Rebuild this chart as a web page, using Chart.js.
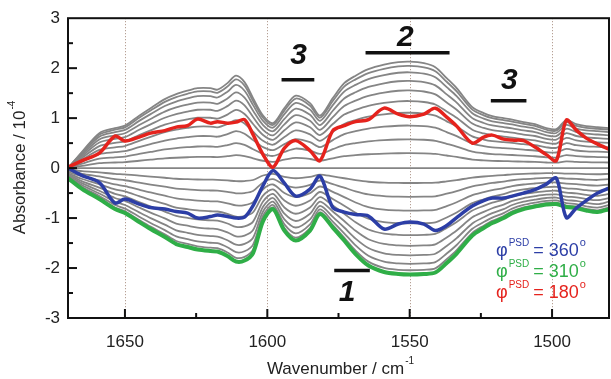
<!DOCTYPE html>
<html>
<head>
<meta charset="utf-8">
<script src="https://cdn.jsdelivr.net/npm/chart.js@4"></script>
<style>
  body { margin: 0; background: #fff; }
  canvas { display: block; }
</style>
</head>
<body>
<canvas id="psd" width="611" height="379"></canvas>
<script>
// wavenumber samples (cm-1)
const wavenumbers = [1670, 1665, 1659, 1653.5, 1650, 1645, 1641, 1636, 1632, 1628, 1624.5, 1620,
  1617.5, 1614, 1611, 1608, 1605, 1601.5, 1598, 1594, 1590, 1585, 1581.5, 1577, 1573, 1569,
  1564.5, 1559, 1554, 1550, 1545, 1541, 1537, 1533.5, 1528, 1524, 1521, 1517, 1514, 1510,
  1506, 1502, 1498.5, 1495, 1491.5, 1488, 1484, 1480];

// upper envelope of the grey family
const envelopeTop = [0.0, 0.33, 0.7, 0.8, 0.85, 1.05, 1.2, 1.38, 1.48, 1.55, 1.6, 1.6,
  1.57, 1.7, 1.85, 1.72, 1.4, 1.05, 0.9, 1.2, 1.45, 1.3, 1.05, 1.4, 1.7, 1.85,
  1.98, 2.07, 2.12, 2.13, 2.1, 2.02, 1.8, 1.6, 1.22, 1.1, 1.04, 1.0, 0.97, 0.92,
  0.88, 0.8, 0.78, 0.96, 0.88, 0.84, 0.82, 0.8];

// phi = 180 (red)
const phase180 = [0.02, 0.15, 0.3, 0.64, 0.54, 0.62, 0.7, 0.75, 0.82, 0.85, 0.98, 0.9,
  0.93, 0.9, 0.92, 0.97, 0.67, 0.27, 0.02, 0.4, 0.55, 0.35, 0.15, 0.75, 0.85, 0.93,
  0.97, 1.2, 1.08, 1.03, 1.08, 1.2, 1.02, 0.84, 0.5, 0.62, 0.66, 0.58, 0.56, 0.55,
  0.42, 0.27, 0.15, 0.96, 0.76, 0.6, 0.48, 0.38];

// phi = 360 (blue)
const phase360 = [0.0, -0.15, -0.29, -0.7, -0.62, -0.72, -0.79, -0.82, -0.87, -0.9, -1.0, -0.97,
  -0.94, -0.97, -1.0, -0.98, -0.75, -0.35, -0.05, -0.3, -0.56, -0.42, -0.16, -0.79, -0.88, -0.93,
  -0.96, -1.22, -1.12, -1.08, -1.12, -1.25, -1.15, -0.99, -0.76, -0.65, -0.6, -0.6, -0.56, -0.5,
  -0.43, -0.32, -0.2, -0.99, -0.8, -0.65, -0.5, -0.4];

// phi = 310 (green), also the lower envelope
const phase310 = [-0.2, -0.42, -0.62, -0.82, -0.9, -1.08, -1.22, -1.38, -1.52, -1.58, -1.63, -1.66,
  -1.67, -1.76, -1.87, -1.85, -1.7, -1.06, -0.82, -1.25, -1.45, -1.25, -0.92, -1.19, -1.45, -1.72,
  -1.95, -2.08, -2.12, -2.13, -2.12, -2.09, -1.9, -1.71, -1.35, -1.2, -1.1, -1.0, -0.9, -0.82,
  -0.77, -0.73, -0.72, -0.78, -0.8, -0.85, -0.88, -0.82];

// relative heights of the grey spectra between the two envelopes
const grayLevels = [1, 0.96, 0.9, 0.82, 0.73, 0.63, 0.52, 0.4, 0.27, 0.14, 0,
  -0.14, -0.27, -0.4, -0.52, -0.63, -0.73, -0.82, -0.9, -0.96, -1];

const xMajor = [1650, 1600, 1550, 1500];
const xMinor = [1625, 1575, 1525];
const yMajor = [-2, -1, 0, 1, 2];
const yMinor = [-2.5, -1.5, -0.5, 0.5, 1.5, 2.5];

const RED = '#e5231d', BLUE = '#2c3ea6', GREEN = '#2fae47', GREY = '#858585';
const FONT = '"Liberation Sans", Arial, sans-serif';

function points(vals) {
    return wavenumbers.map((w, i) => ({ x: w, y: vals[i] }));
}

const datasets = [
    { data: points(phase180), borderColor: RED, borderWidth: 3.5, order: 0 },
    { data: points(phase360), borderColor: BLUE, borderWidth: 3.5, order: 1 },
    { data: points(phase310), borderColor: GREEN, borderWidth: 4, order: 2 }
];
grayLevels.forEach(l => {
    datasets.push({
        data: wavenumbers.map((w, i) => ({ x: w, y: l >= 0 ? l * envelopeTop[i] : -l * phase310[i] })),
        borderColor: GREY,
        borderWidth: 1.8,
        order: 5
    });
});

function sup(ctx, base, supText, x, y, size, supSize) {
    ctx.font = size + 'px ' + FONT;
    ctx.fillText(base, x, y);
    let w = ctx.measureText(base).width;
    ctx.font = supSize + 'px ' + FONT;
    ctx.fillText(supText, x + w + 1, y - size * 0.45);
    return w + 1 + ctx.measureText(supText).width;
}

const decor = {
    id: 'decor',
    beforeDatasetsDraw(chart) {
        const { ctx, chartArea: a, scales: { x, y } } = chart;
        ctx.save();
        ctx.strokeStyle = '#a58a7c';
        ctx.lineWidth = 1;
        ctx.setLineDash([1, 2]);
        xMajor.forEach(v => {
            const px = Math.round(x.getPixelForValue(v)) + 0.5;
            ctx.beginPath(); ctx.moveTo(px, a.top); ctx.lineTo(px, a.bottom); ctx.stroke();
        });
        ctx.setLineDash([]);
        ctx.strokeStyle = '#555';
        const y0 = Math.round(y.getPixelForValue(0)) + 0.5;
        ctx.beginPath(); ctx.moveTo(a.left, y0); ctx.lineTo(a.right, y0); ctx.stroke();
        ctx.restore();
    },
    afterDraw(chart) {
        const { ctx, chartArea: a, scales: { x, y } } = chart;
        ctx.save();
        // frame and inward ticks
        ctx.strokeStyle = '#111';
        ctx.lineWidth = 2;
        ctx.strokeRect(a.left, a.top, a.right - a.left, a.bottom - a.top);
        const tick = (x1, y1, x2, y2) => { ctx.beginPath(); ctx.moveTo(x1, y1); ctx.lineTo(x2, y2); ctx.stroke(); };
        yMajor.forEach(v => { const p = y.getPixelForValue(v); tick(a.left, p, a.left + 9, p); });
        yMinor.forEach(v => { const p = y.getPixelForValue(v); tick(a.left, p, a.left + 5, p); });
        xMajor.forEach(v => { const p = x.getPixelForValue(v); tick(p, a.bottom, p, a.bottom - 9); });
        xMinor.forEach(v => { const p = x.getPixelForValue(v); tick(p, a.bottom, p, a.bottom - 5); });

        // band labels
        const bands = [
            { t: '3', from: 1595, to: 1583.5, barY: 1.77, tx: 1589, ty: 2.25 },
            { t: '2', from: 1565.5, to: 1536, barY: 2.31, tx: 1551.5, ty: 2.6 },
            { t: '3', from: 1521.5, to: 1509, barY: 1.35, tx: 1515, ty: 1.75 },
            { t: '1', from: 1576.5, to: 1564, barY: -2.05, tx: 1572, ty: -2.5 }
        ];
        ctx.fillStyle = '#111';
        ctx.lineWidth = 3.5;
        ctx.textAlign = 'center';
        ctx.textBaseline = 'middle';
        ctx.font = 'italic bold 30px ' + FONT;
        bands.forEach(b => {
            const py = y.getPixelForValue(b.barY);
            tick(x.getPixelForValue(b.from), py, x.getPixelForValue(b.to), py);
            ctx.fillText(b.t, x.getPixelForValue(b.tx), y.getPixelForValue(b.ty));
        });

        // phase legend
        ctx.textAlign = 'left';
        ctx.textBaseline = 'middle';
        [['360', BLUE, 251], ['310', GREEN, 272], ['180', RED, 293]].forEach(([v, c, py]) => {
            ctx.fillStyle = c;
            let px = 496;
            px += sup(ctx, '\u03C6', 'PSD', px, py, 18, 10) + 4;
            sup(ctx, '= ' + v, 'o', px, py, 18, 11);
        });

        // axis titles
        ctx.fillStyle = '#222';
        ctx.textAlign = 'left';
        ctx.font = '17px ' + FONT;
        let w1 = ctx.measureText('Wavenumber / cm').width;
        ctx.font = '10px ' + FONT;
        let w2 = ctx.measureText('-1').width;
        sup(ctx, 'Wavenumber / cm', '-1', 340 - (w1 + w2) / 2, 369, 17, 10);

        ctx.save();
        ctx.translate(20, 168);
        ctx.rotate(-Math.PI / 2);
        ctx.font = '17px ' + FONT;
        w1 = ctx.measureText('Absorbance / 10').width;
        ctx.font = '10px ' + FONT;
        w2 = ctx.measureText('-4').width;
        sup(ctx, 'Absorbance / 10', '-4', -(w1 + w2) / 2, 0, 17, 10);
        ctx.restore();
        ctx.restore();
    }
};

new Chart(document.getElementById('psd'), {
    type: 'line',
    data: { datasets: datasets },
    options: {
        responsive: false,
        animation: false,
        layout: { padding: { top: 17, right: 2, left: 0, bottom: 0 } },
        elements: {
            point: { radius: 0 },
            line: { tension: 0.3, fill: false, borderCapStyle: 'round', borderJoinStyle: 'round' }
        },
        plugins: { legend: { display: false }, tooltip: { enabled: false } },
        scales: {
            x: {
                type: 'linear',
                reverse: true,
                min: 1480,
                max: 1670,
                grid: { display: false, drawTicks: false },
                border: { display: false },
                afterBuildTicks: s => { s.ticks = xMajor.map(v => ({ value: v })); },
                afterFit: s => { s.height = 61; },
                ticks: {
                    autoSkip: false, padding: 14, color: '#222', maxRotation: 0,
                    font: { family: FONT, size: 17 },
                    callback: v => String(v)
                }
            },
            y: {
                min: -3,
                max: 3,
                grid: { display: false, drawTicks: false },
                border: { display: false },
                afterFit: s => { s.width = 68; },
                ticks: { stepSize: 1, padding: 8, color: '#222', font: { family: FONT, size: 17 } }
            }
        }
    },
    plugins: [decor]
});
</script>
</body>
</html>
